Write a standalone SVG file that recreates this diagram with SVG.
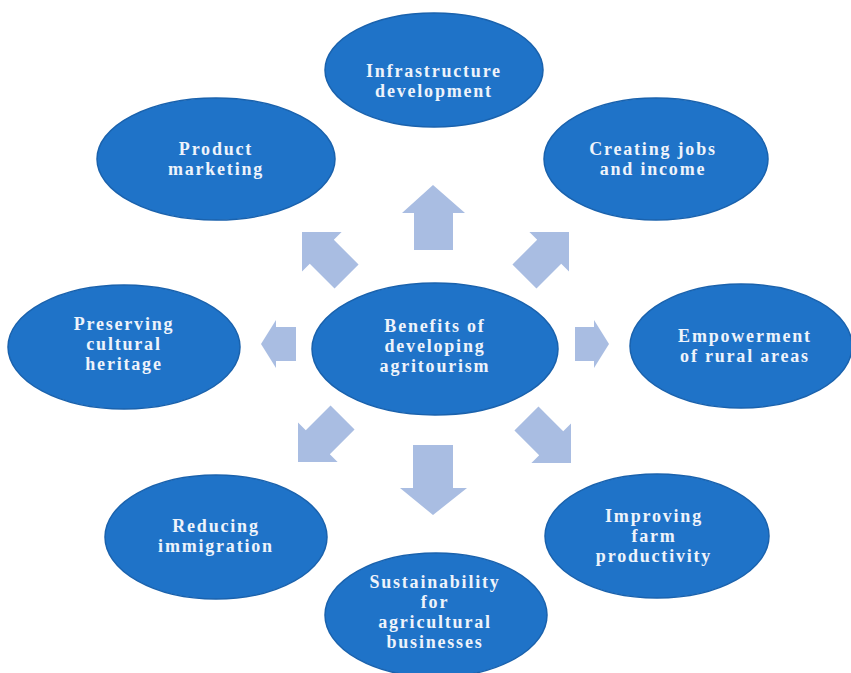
<svg xmlns="http://www.w3.org/2000/svg" xmlns:xlink="http://www.w3.org/1999/xlink" width="851" height="673" viewBox="0 0 851 673">
<style>
.node ellipse{fill:#1f73c8;stroke:#1a62ad;stroke-width:1.5}
.node text{font-family:"Liberation Serif","Times New Roman",serif;font-weight:bold;font-size:18px;letter-spacing:1.8px;fill:#eef3fb;text-anchor:middle}
.arr{fill:#a9bde2}
</style>
<defs>
<polygon id="diag" points="0,0 28,28 17,28 17,63 -17,63 -17,28 -28,28"/>
</defs>
<rect width="851" height="673" fill="#ffffff"/>
<g id="connectors" class="arr">
<polygon points="433,185 465,213 453,213 453,250 414,250 414,213 402,213"/>
<polygon points="433,515 467,488 453,488 453,445 413,445 413,488 400,488"/>
<polygon points="261,344 276,320 276,327 296,327 296,361 276,361 276,368"/>
<polygon points="609,344 594,320 594,327 575,327 575,361 594,361 594,368"/>
<use xlink:href="#diag" href="#diag" transform="translate(302,232) rotate(-45)"/>
<use xlink:href="#diag" href="#diag" transform="translate(569,232) rotate(45)"/>
<use xlink:href="#diag" href="#diag" transform="translate(298,462) rotate(-135)"/>
<use xlink:href="#diag" href="#diag" transform="translate(571,463) rotate(135)"/>
</g>
<g id="center" class="node">
<ellipse cx="435" cy="349" rx="123" ry="66"/>
<text x="435" y="332">Benefits of</text>
<text x="435" y="352">developing</text>
<text x="435" y="372">agritourism</text>
</g>
<g id="infrastructure" class="node">
<ellipse cx="434" cy="70" rx="109" ry="57"/>
<text x="434" y="77">Infrastructure</text>
<text x="434" y="97">development</text>
</g>
<g id="product" class="node">
<ellipse cx="216" cy="159" rx="119" ry="61"/>
<text x="216" y="155">Product</text>
<text x="216" y="175">marketing</text>
</g>
<g id="jobs" class="node">
<ellipse cx="656" cy="159" rx="112" ry="61"/>
<text x="653" y="155">Creating jobs</text>
<text x="653" y="175">and income</text>
</g>
<g id="heritage" class="node">
<ellipse cx="124" cy="347" rx="116" ry="62"/>
<text x="124" y="330">Preserving</text>
<text x="124" y="350">cultural</text>
<text x="124" y="370">heritage</text>
</g>
<g id="empowerment" class="node">
<ellipse cx="741" cy="346" rx="111" ry="62"/>
<text x="745" y="342">Empowerment</text>
<text x="745" y="362">of rural areas</text>
</g>
<g id="immigration" class="node">
<ellipse cx="216" cy="537" rx="111" ry="62"/>
<text x="216" y="532">Reducing</text>
<text x="216" y="552">immigration</text>
</g>
<g id="productivity" class="node">
<ellipse cx="657" cy="536" rx="112" ry="62"/>
<text x="654" y="522">Improving</text>
<text x="654" y="542">farm</text>
<text x="654" y="562">productivity</text>
</g>
<g id="sustainability" class="node">
<ellipse cx="436" cy="615" rx="111" ry="62"/>
<text x="435" y="588">Sustainability</text>
<text x="435" y="608">for</text>
<text x="435" y="628">agricultural</text>
<text x="435" y="648">businesses</text>
</g>
</svg>
